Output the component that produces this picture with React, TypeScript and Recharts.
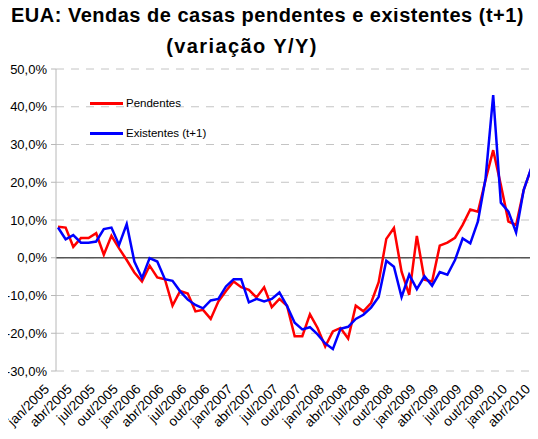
import React from 'react';
import { LineChart, Line, XAxis, YAxis, CartesianGrid, ReferenceLine } from 'recharts';

// months jan/2005 .. abr/2010
const months = [
  'jan/2005', 'fev/2005', 'mar/2005', 'abr/2005', 'mai/2005', 'jun/2005', 'jul/2005', 'ago/2005', 'set/2005', 'out/2005', 'nov/2005', 'dez/2005',
  'jan/2006', 'fev/2006', 'mar/2006', 'abr/2006', 'mai/2006', 'jun/2006', 'jul/2006', 'ago/2006', 'set/2006', 'out/2006', 'nov/2006', 'dez/2006',
  'jan/2007', 'fev/2007', 'mar/2007', 'abr/2007', 'mai/2007', 'jun/2007', 'jul/2007', 'ago/2007', 'set/2007', 'out/2007', 'nov/2007', 'dez/2007',
  'jan/2008', 'fev/2008', 'mar/2008', 'abr/2008', 'mai/2008', 'jun/2008', 'jul/2008', 'ago/2008', 'set/2008', 'out/2008', 'nov/2008', 'dez/2008',
  'jan/2009', 'fev/2009', 'mar/2009', 'abr/2009', 'mai/2009', 'jun/2009', 'jul/2009', 'ago/2009', 'set/2009', 'out/2009', 'nov/2009', 'dez/2009',
  'jan/2010', 'fev/2010', 'mar/2010', 'abr/2010',
];

const pendentes = [
  8.2, 8.0, 2.9, 5.2, 5.2, 6.5, 0.8, 5.8, 2.5, -0.6, -3.9, -6.3,
  -2.1, -5.2, -5.7, -12.7, -8.8, -9.5, -14.2, -13.8, -16.2, -11.6, -8.8, -6.3,
  -7.8, -8.5, -10.5, -7.8, -13.1, -10.9, -12.7, -20.8, -20.8, -15.0, -18.6, -23.5,
  -19.5, -18.6, -21.4, -12.7, -14.2, -12.0, -6.5, 5.0, 7.9, -3.7, -9.8, 5.8,
  -5.8, -6.3, 3.2, 4.0, 5.3, 8.7, 12.8, 12.2, 20.6, 28.5, 19.3, 9.6,
  8.7, 18.0, 23.7, 24.6,
];

// existing home sales shifted one month ahead (t+1): last month not available
const existentes: (number | null)[] = [
  8.0, 4.9, 6.0, 4.0, 4.0, 4.3, 7.6, 8.0, 3.4, 8.9, -1.0, -5.4,
  -0.1, -1.0, -5.7, -6.1, -8.9, -11.1, -12.5, -13.4, -11.3, -10.9, -7.6, -5.7,
  -5.7, -11.8, -10.9, -11.6, -10.9, -9.2, -12.8, -17.2, -19.0, -18.4, -20.3, -22.7,
  -24.2, -18.8, -18.3, -16.2, -15.1, -13.2, -10.4, -0.8, -2.4, -10.4, -4.5, -8.3,
  -4.9, -7.4, -3.8, -4.5, -0.6, 5.1, 3.8, 9.6, 21.0, 43.1, 14.6, 12.2,
  6.7, 18.0, 23.9, null,
];

const yTicks = [-30, -20, -10, 0, 10, 20, 30, 40, 50];

const data = months.map((m, i) => ({ mes: m, pend: pendentes[i], exist: existentes[i] }));

const font = '"Liberation Sans", Arial, sans-serif';

const XTick = ({ x, y, payload }: any) => {
  const ax = x - 8;
  const ay = y + 11;
  return (
    <text
      x={ax}
      y={ay}
      transform={`rotate(-45 ${ax} ${ay})`}
      textAnchor="end"
      fontSize={13.5}
      fontFamily={font}
      fill="#000"
    >
      {payload.value}
    </text>
  );
};

const fmt = (v: number) => `${v.toFixed(1).replace('.', ',')}%`;

const YTick = ({ y, payload }: any) => (
  <text x={47} y={y} dy={4.5} textAnchor="end" fontSize={13} fontFamily={font} fill="#000">
    {fmt(payload.value)}
  </text>
);

export default function App() {
  return (
    <div style={{ position: 'relative', margin: '-8px 0 0 -8px', width: 545, height: 439, fontFamily: font }}>
      <div
        style={{
          position: 'absolute', left: 0, top: 4, width: 535, textAlign: 'center',
          fontWeight: 'bold', fontSize: 20, letterSpacing: 0.5, fontFamily: font, color: '#000', whiteSpace: 'nowrap',
        }}
      >
        EUA: Vendas de casas pendentes e existentes (t+1)
      </div>
      <div
        style={{
          position: 'absolute', left: 0, top: 35, width: 484, textAlign: 'center',
          fontWeight: 'bold', fontSize: 20, letterSpacing: 1.4, fontFamily: font, color: '#000', whiteSpace: 'nowrap',
        }}
      >
        (variação Y/Y)
      </div>
      <LineChart
        width={545}
        height={439}
        data={data}
        margin={{ top: 69, right: 6, bottom: 0, left: 0 }}
      >
        <CartesianGrid horizontal vertical={false} stroke="#c4c4c4" strokeDasharray="8 7" />
        <XAxis
          dataKey="mes"
          interval={2}
          height={68}
          axisLine={false}
          tickLine={false}
          padding={{ left: 2, right: 0 }}
          tick={<XTick />}
        />
        <YAxis
          width={56}
          domain={[-30, 50]}
          ticks={yTicks}
          axisLine={{ stroke: '#b8b8b8' }}
          tickLine={{ stroke: '#b8b8b8' }}
          tickSize={5}
          tick={<YTick />}
          allowDataOverflow
        />
        <ReferenceLine y={0} stroke="#555" strokeWidth={1.5} />
        <Line
          dataKey="pend"
          stroke="#ff0000"
          strokeWidth={2.5}
          dot={false}
          isAnimationActive={false}
        />
        <Line
          dataKey="exist"
          stroke="#0000ff"
          strokeWidth={2.5}
          dot={false}
          isAnimationActive={false}
        />
      </LineChart>
      <div style={{ position: 'absolute', left: 90, top: 95, fontSize: 11.5, fontFamily: font, color: '#000', lineHeight: '17px' }}>
        <div style={{ display: 'flex', alignItems: 'center' }}>
          <span style={{ display: 'inline-block', width: 33, height: 3, background: '#ff0000', marginRight: 3 }} />
          Pendentes
        </div>
        <div style={{ display: 'flex', alignItems: 'center', marginTop: 13 }}>
          <span style={{ display: 'inline-block', width: 33, height: 3, background: '#0000ff', marginRight: 3 }} />
          Existentes (t+1)
        </div>
      </div>
    </div>
  );
}
